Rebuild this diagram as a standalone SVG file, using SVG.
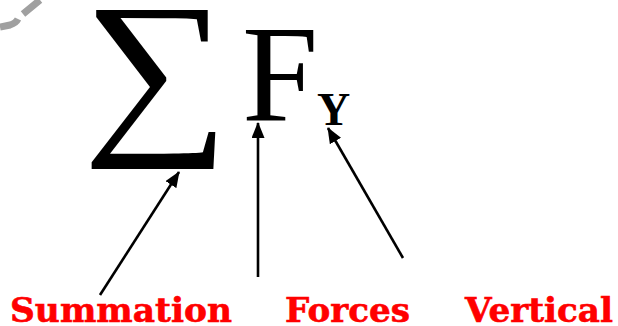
<svg xmlns="http://www.w3.org/2000/svg" width="618" height="326" viewBox="0 0 618 326">
<style>
.lbl{font-family:"DejaVu Serif","Liberation Serif",serif;font-weight:bold;fill:#ff0000;stroke:#ff0000;stroke-width:0.6;font-size:33px}
.math{font-family:"Liberation Serif","Times New Roman",serif;fill:#000}
.conn line{stroke:#000;stroke-width:2.6;fill:none}
</style>
<defs>
<marker id="ah" viewBox="0 0 16 13" refX="15" refY="6.5" markerWidth="16" markerHeight="13" orient="auto" markerUnits="userSpaceOnUse">
<path d="M0,0 L16,6.5 L0,13 z" fill="#000"/>
</marker>
</defs>
<rect width="618" height="326" fill="#fff"/>
<path d="M0,27 L10,25 Q16,23 18,19 M23,14 L40,0" stroke="#a0a0a0" stroke-width="7" fill="none"/>
<g id="sigma"><text class="math" transform="translate(88,130) scale(1.13,1)" x="-5" y="0" font-size="183">∑</text></g>
<g id="F"><text class="math" x="242" y="121" font-size="137">F</text></g>
<g id="Y"><text class="math" x="317" y="125" font-size="46" font-weight="bold">Y</text></g>
<g class="conn">
<line x1="100" y1="295" x2="179" y2="172" marker-end="url(#ah)"/>
<line x1="258" y1="277" x2="258" y2="123" marker-end="url(#ah)"/>
<line x1="403" y1="258" x2="328" y2="128" marker-end="url(#ah)"/>
</g>
<g id="summation"><text class="lbl" x="10" y="322" textLength="222" lengthAdjust="spacingAndGlyphs">Summation</text></g>
<g id="forces"><text class="lbl" x="285" y="322" textLength="125" lengthAdjust="spacingAndGlyphs">Forces</text></g>
<g id="vertical"><text class="lbl" x="465" y="322" textLength="148" lengthAdjust="spacingAndGlyphs">Vertical</text></g>
</svg>
